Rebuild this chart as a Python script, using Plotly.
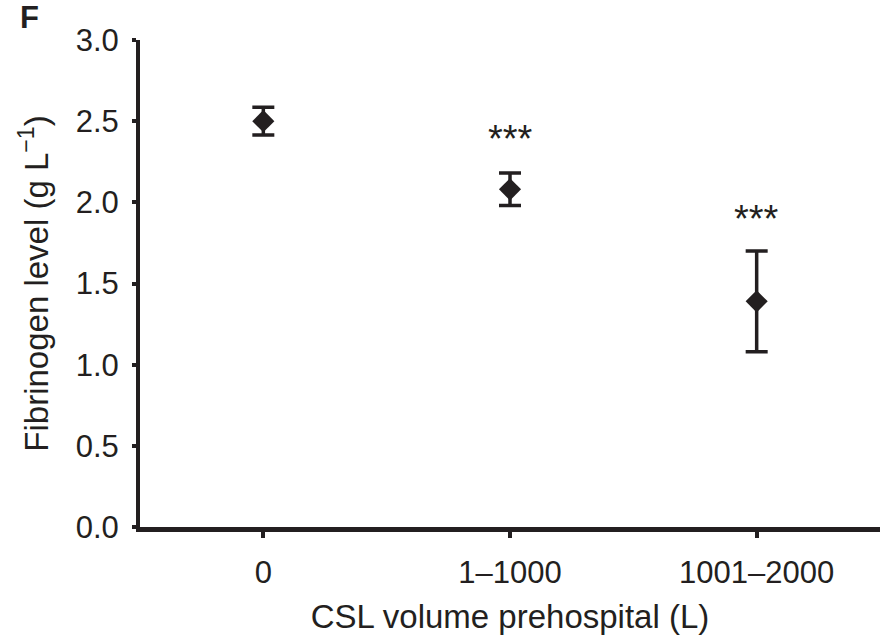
import plotly.graph_objects as go

categories = ["0", "1\u20131000", "1001\u20132000"]
means = [2.50, 2.08, 1.39]
errors = [0.085, 0.10, 0.31]
sig_labels = ["", "***", "***"]
sig_y = [None, 2.39, 1.90]
y_ticks = [0.0, 0.5, 1.0, 1.5, 2.0, 2.5, 3.0]

ink = "#231f20"
font = "Liberation Sans, Arial, Helvetica, sans-serif"

fig = go.Figure()
fig.add_trace(go.Scatter(
    x=[0, 1, 2], y=means, mode="markers",
    marker=dict(symbol="diamond", size=17, color=ink),
    error_y=dict(type="data", array=errors, visible=True, color=ink, thickness=3.5, width=11),
    showlegend=False,
))

for i, (lab, yy) in enumerate(zip(sig_labels, sig_y)):
    if lab:
        fig.add_annotation(x=i, y=yy, text=lab, showarrow=False, xref="x", yref="y",
                           font=dict(family=font, size=38, color=ink), yanchor="middle")

fig.add_annotation(x=0, y=1, xref="paper", yref="paper", xanchor="left", yanchor="top",
                   text="<b>F</b>", showarrow=False, font=dict(family=font, size=31, color=ink),
                   xshift=-140 + 18, yshift=40 + 2)

fig.update_layout(
    width=882, height=639,
    margin=dict(l=140, r=2, t=40, b=112),
    paper_bgcolor="white", plot_bgcolor="white",
    font=dict(family=font, color=ink),
    xaxis=dict(
        range=[-0.5, 2.5], tickvals=[0, 1, 2], ticktext=categories,
        showline=True, linewidth=5, linecolor=ink, showgrid=False, zeroline=False,
        ticks="outside", ticklen=6, tickwidth=4, tickcolor=ink,
        tickfont=dict(size=31, color=ink), automargin=False, ticklabelstandoff=8,
        title=dict(text="CSL volume prehospital (L)", font=dict(size=33, color=ink), standoff=17),
    ),
    yaxis=dict(
        range=[0, 3.0], tickvals=y_ticks, tickformat=".1f",
        showline=True, linewidth=4, linecolor=ink, showgrid=False, zeroline=False,
        ticks="outside", ticklen=4, tickwidth=4, tickcolor=ink,
        tickfont=dict(size=31, color=ink), automargin=False, ticklabelstandoff=7,
        title=dict(text="Fibrinogen level (g L<sup>\u22121</sup>)", font=dict(size=33, color=ink), standoff=18),
    ),
)

fig.write_html("out.html")
